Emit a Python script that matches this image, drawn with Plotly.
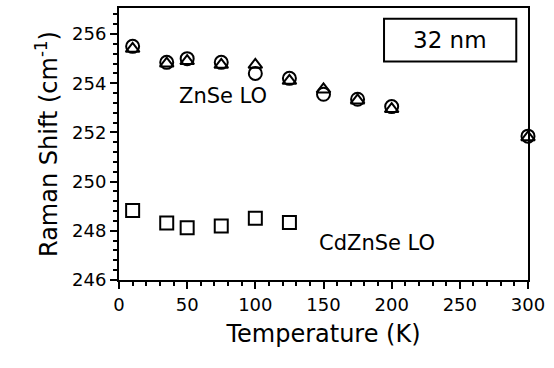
import plotly.graph_objects as go

temps = [10, 35, 50, 75, 100, 125, 150, 175, 200, 300]
znse_circle = [255.5, 254.85, 255.0, 254.85, 254.4, 254.2, 253.55, 253.35, 253.05, 251.85]
znse_triangle = [255.4, 254.8, 254.9, 254.75, 254.75, 254.1, 253.75, 253.3, 252.95, 251.8]
cd_temps = [10, 35, 50, 75, 100, 125]
cdznse_square = [248.83, 248.32, 248.12, 248.2, 248.51, 248.34]

FONT = "DejaVu Sans"

fig = go.Figure()
fig.add_trace(go.Scatter(x=temps, y=znse_circle, mode="markers", cliponaxis=False,
                         marker=dict(symbol="circle-open", size=13, color="black", line=dict(width=2))))
fig.add_trace(go.Scatter(x=temps, y=znse_triangle, mode="markers", cliponaxis=False,
                         marker=dict(symbol="triangle-up-open", size=12, color="black", line=dict(width=2))))
fig.add_trace(go.Scatter(x=cd_temps, y=cdznse_square, mode="markers", cliponaxis=False,
                         marker=dict(symbol="square-open", size=13, color="black", line=dict(width=2))))

fig.add_shape(type="rect", xref="x", yref="y", x0=194.4, x1=291.4, y0=254.88, y1=256.62,
              line=dict(color="black", width=2), fillcolor="white")
fig.add_annotation(x=243, y=255.75, xref="x", yref="y", text="32 nm", showarrow=False,
                   font=dict(family=FONT, size=23, color="black"))
fig.add_annotation(x=76.5, y=253.47, xref="x", yref="y", text="ZnSe LO", showarrow=False,
                   font=dict(family=FONT, size=21, color="black"))
fig.add_annotation(x=189.5, y=247.5, xref="x", yref="y", text="CdZnSe LO", showarrow=False,
                   font=dict(family=FONT, size=21, color="black"))

fig.update_layout(
    width=554, height=368,
    margin=dict(l=119, r=26, t=6, b=88),
    paper_bgcolor="white", plot_bgcolor="white",
    showlegend=False,
    font=dict(family=FONT, color="black"),
)
fig.update_xaxes(
    range=[0, 300], tickmode="linear", tick0=0, dtick=50,
    ticks="outside", ticklen=7, tickwidth=2, tickcolor="black",
    minor=dict(dtick=10, ticks="outside", ticklen=4, tickwidth=2, tickcolor="black"),
    showline=True, linewidth=2, linecolor="black", mirror=True,
    showgrid=False, zeroline=False,
    tickfont=dict(family=FONT, size=18, color="black"),
    title=dict(text="Temperature (K)", font=dict(family=FONT, size=24, color="black"), standoff=12),
)
fig.update_yaxes(
    range=[246, 257.06], tickmode="linear", tick0=246, dtick=2,
    ticks="outside", ticklen=7, tickwidth=2, tickcolor="black",
    minor=dict(dtick=0.4, tick0=246, ticks="outside", ticklen=4, tickwidth=2, tickcolor="black"),
    showline=True, linewidth=2, linecolor="black", mirror=True,
    showgrid=False, zeroline=False,
    tickfont=dict(family=FONT, size=18, color="black"),
    title=dict(text="Raman Shift (cm<sup>-1</sup>)", font=dict(family=FONT, size=24, color="black"), standoff=8),
)

fig.write_html(
    "out.html",
    config={"displayModeBar": False},
    post_script="document.body.style.margin='0';document.body.style.overflow='hidden';",
)
